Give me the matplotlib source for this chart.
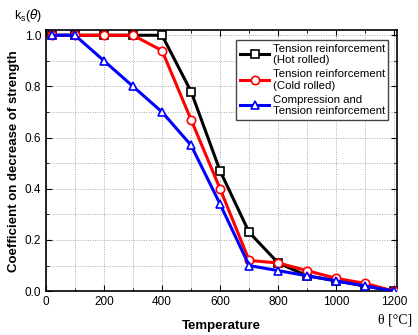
import matplotlib
matplotlib.use("Agg")
import matplotlib.pyplot as plt
from matplotlib.ticker import MultipleLocator, FormatStrFormatter

temps = [20, 100, 200, 300, 400, 500, 600, 700, 800, 900, 1000, 1100, 1200]
hot_rolled = [1.0, 1.0, 1.0, 1.0, 1.0, 0.78, 0.47, 0.23, 0.11, 0.06, 0.04, 0.02, 0.0]
cold_rolled = [1.0, 1.0, 1.0, 1.0, 0.94, 0.67, 0.40, 0.12, 0.11, 0.08, 0.05, 0.03, 0.0]
compression = [1.0, 1.0, 0.9, 0.8, 0.7, 0.57, 0.34, 0.10, 0.08, 0.06, 0.04, 0.02, 0.0]

labels = ["Tension reinforcement\n(Hot rolled)",
          "Tension reinforcement\n(Cold rolled)",
          "Compression and\nTension reinforcement"]

plt.rcParams['font.family'] = ['Arial', 'Liberation Sans', 'DejaVu Sans']

fig = plt.figure(figsize=(4.18, 3.35), dpi=100)
ax = fig.add_axes([0.110, 0.131, 0.840, 0.779])

ax.plot(temps, hot_rolled, color='black', lw=2.2, marker='s', ms=5.5,
        mfc='white', mec='black', mew=1.2, label=labels[0], zorder=3)
ax.plot(temps, cold_rolled, color='#ff0000', lw=2.2, marker='o', ms=6,
        mfc='white', mec='#ff0000', mew=1.2, label=labels[1], zorder=4)
ax.plot(temps, compression, color='#0000ff', lw=2.2, marker='^', ms=6,
        mfc='white', mec='#0000ff', mew=1.2, label=labels[2], zorder=5)

ax.set_xlim(0, 1210)
ax.set_ylim(0, 1.02)
ax.xaxis.set_major_locator(MultipleLocator(200))
ax.xaxis.set_minor_locator(MultipleLocator(100))
ax.yaxis.set_major_locator(MultipleLocator(0.2))
ax.yaxis.set_minor_locator(MultipleLocator(0.1))
ax.yaxis.set_major_formatter(FormatStrFormatter('%.1f'))
ax.grid(True, which='both', color='#aaaaaa', ls=(0, (1, 1.5)), lw=0.7)
ax.tick_params(which='both', direction='in', top=True, right=True, labelsize=8.5)
ax.tick_params(which='major', length=4)
ax.tick_params(which='minor', length=2.5)
for s in ax.spines.values():
    s.set_linewidth(1.2)

ax.set_xlabel("Temperature", fontsize=9.5, fontweight='bold', labelpad=9)
ax.set_ylabel("Coefficient on decrease of strength", fontsize=9.5, fontweight='bold', labelpad=3)

fig.text(0.033, 0.955, r"k$_\mathregular{s}$($\theta$)", fontsize=9, ha='left', va='center')
fig.text(0.944, 0.045, "θ [°C]", fontsize=10, ha='center', va='center',
         family=['Liberation Serif', 'DejaVu Serif'])

leg = ax.legend(loc='upper right', fontsize=8.2, frameon=True, fancybox=False,
                edgecolor='#444444', framealpha=1, handlelength=2.6,
                borderpad=0.3, labelspacing=0.35, handletextpad=0.3,
                borderaxespad=0.3, bbox_to_anchor=(0.985, 0.975))
leg.get_frame().set_linewidth(1.0)

fig.savefig("out.png", dpi=100)
